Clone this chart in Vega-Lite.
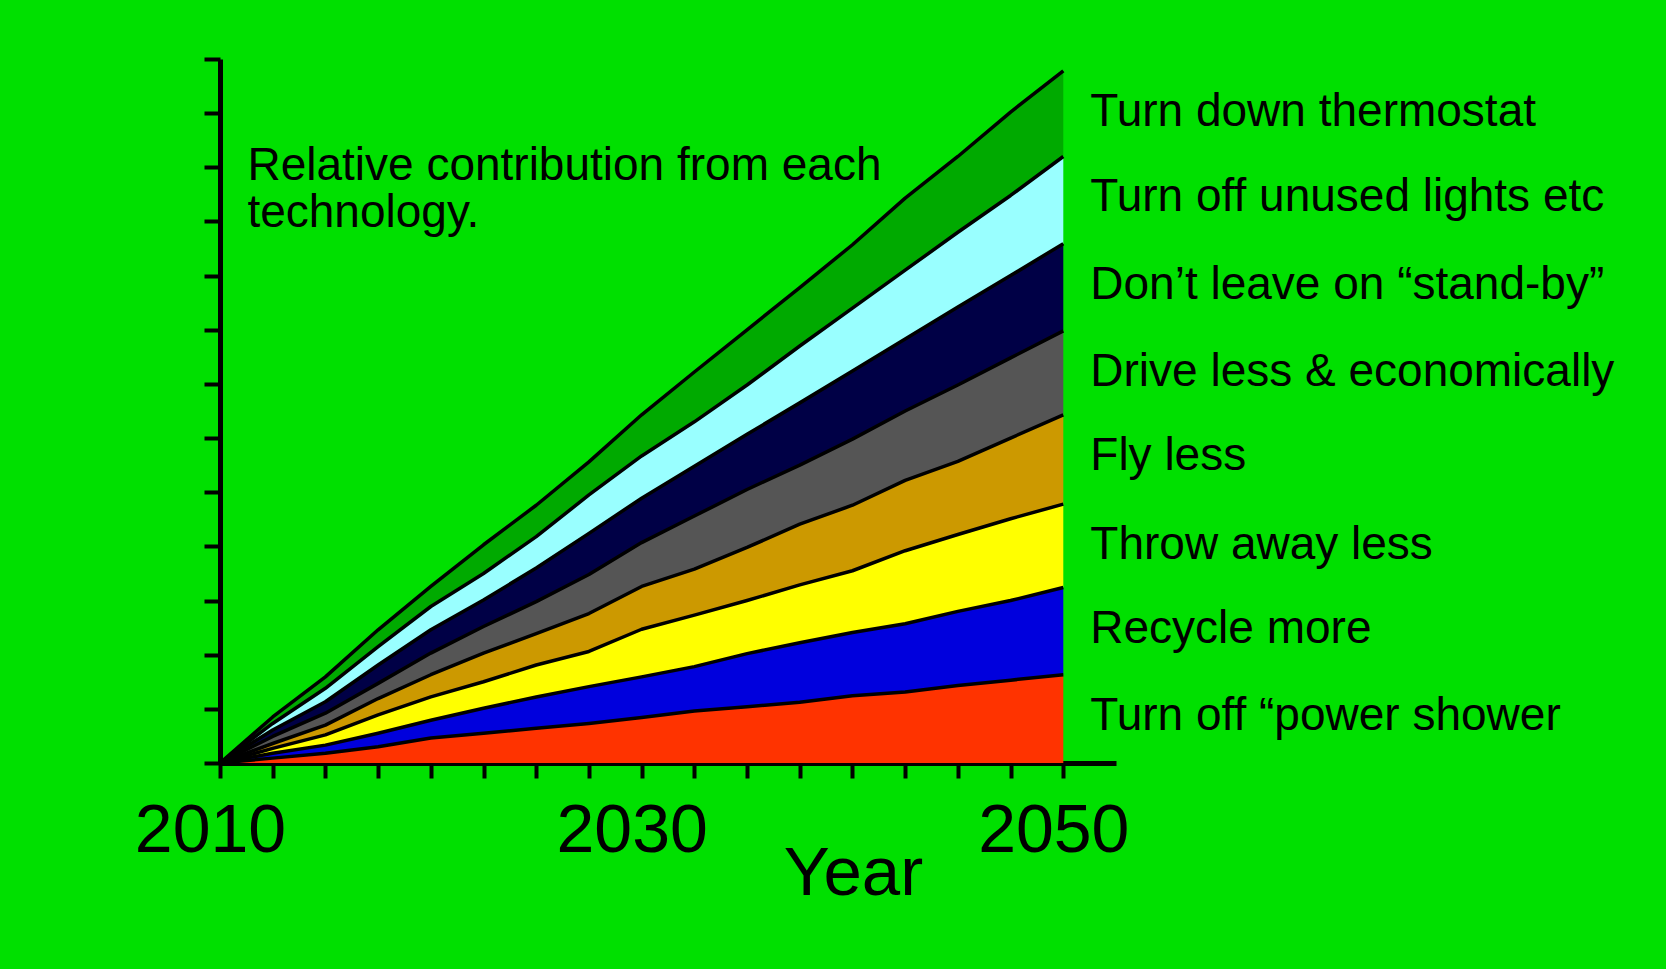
{
  "$schema": "https://vega.github.io/schema/vega-lite/v6.json",
  "width": 896,
  "height": 704,
  "autosize": {"type": "none"},
  "padding": {"left": 220, "top": 59, "right": 550, "bottom": 206},
  "background": "#00E000",
  "config": {"font": "Liberation Sans", "view": {"stroke": null}},
  "datasets": {
    "series": [
      {"measure": "Turn off “power shower", "rank": 1},
      {"measure": "Recycle more", "rank": 2},
      {"measure": "Throw away less", "rank": 3},
      {"measure": "Fly less", "rank": 4},
      {"measure": "Drive less & economically", "rank": 5},
      {"measure": "Don’t leave on “stand-by”", "rank": 6},
      {"measure": "Turn off unused lights etc", "rank": 7},
      {"measure": "Turn down thermostat", "rank": 8}
    ],
    "main": [
      {"year": 2010, "measure": "Turn off “power shower", "value": 0},
      {"year": 2010, "measure": "Recycle more", "value": 0},
      {"year": 2010, "measure": "Throw away less", "value": 0},
      {"year": 2010, "measure": "Fly less", "value": 0},
      {"year": 2010, "measure": "Drive less & economically", "value": 0},
      {"year": 2010, "measure": "Don’t leave on “stand-by”", "value": 0},
      {"year": 2010, "measure": "Turn off unused lights etc", "value": 0},
      {"year": 2010, "measure": "Turn down thermostat", "value": 0},

      {"year": 2012.5, "measure": "Turn off “power shower", "value": 0.09},
      {"year": 2012.5, "measure": "Recycle more", "value": 0.09},
      {"year": 2012.5, "measure": "Throw away less", "value": 0.09},
      {"year": 2012.5, "measure": "Fly less", "value": 0.09},
      {"year": 2012.5, "measure": "Drive less & economically", "value": 0.13},
      {"year": 2012.5, "measure": "Don’t leave on “stand-by”", "value": 0.12},
      {"year": 2012.5, "measure": "Turn off unused lights etc", "value": 0.12},
      {"year": 2012.5, "measure": "Turn down thermostat", "value": 0.12},

      {"year": 2015, "measure": "Turn off “power shower", "value": 0.18},
      {"year": 2015, "measure": "Recycle more", "value": 0.15},
      {"year": 2015, "measure": "Throw away less", "value": 0.19},
      {"year": 2015, "measure": "Fly less", "value": 0.18},
      {"year": 2015, "measure": "Drive less & economically", "value": 0.22},
      {"year": 2015, "measure": "Don’t leave on “stand-by”", "value": 0.21},
      {"year": 2015, "measure": "Turn off unused lights etc", "value": 0.25},
      {"year": 2015, "measure": "Turn down thermostat", "value": 0.21},

      {"year": 2017.5, "measure": "Turn off “power shower", "value": 0.30},
      {"year": 2017.5, "measure": "Recycle more", "value": 0.25},
      {"year": 2017.5, "measure": "Throw away less", "value": 0.34},
      {"year": 2017.5, "measure": "Fly less", "value": 0.30},
      {"year": 2017.5, "measure": "Drive less & economically", "value": 0.28},
      {"year": 2017.5, "measure": "Don’t leave on “stand-by”", "value": 0.34},
      {"year": 2017.5, "measure": "Turn off unused lights etc", "value": 0.34},
      {"year": 2017.5, "measure": "Turn down thermostat", "value": 0.31},

      {"year": 2020, "measure": "Turn off “power shower", "value": 0.46},
      {"year": 2020, "measure": "Recycle more", "value": 0.33},
      {"year": 2020, "measure": "Throw away less", "value": 0.43},
      {"year": 2020, "measure": "Fly less", "value": 0.41},
      {"year": 2020, "measure": "Drive less & economically", "value": 0.40},
      {"year": 2020, "measure": "Don’t leave on “stand-by”", "value": 0.43},
      {"year": 2020, "measure": "Turn off unused lights etc", "value": 0.43},
      {"year": 2020, "measure": "Turn down thermostat", "value": 0.37},

      {"year": 2022.5, "measure": "Turn off “power shower", "value": 0.55},
      {"year": 2022.5, "measure": "Recycle more", "value": 0.46},
      {"year": 2022.5, "measure": "Throw away less", "value": 0.49},
      {"year": 2022.5, "measure": "Fly less", "value": 0.53},
      {"year": 2022.5, "measure": "Drive less & economically", "value": 0.49},
      {"year": 2022.5, "measure": "Don’t leave on “stand-by”", "value": 0.49},
      {"year": 2022.5, "measure": "Turn off unused lights etc", "value": 0.49},
      {"year": 2022.5, "measure": "Turn down thermostat", "value": 0.53},

      {"year": 2025, "measure": "Turn off “power shower", "value": 0.64},
      {"year": 2025, "measure": "Recycle more", "value": 0.58},
      {"year": 2025, "measure": "Throw away less", "value": 0.59},
      {"year": 2025, "measure": "Fly less", "value": 0.58},
      {"year": 2025, "measure": "Drive less & economically", "value": 0.59},
      {"year": 2025, "measure": "Don’t leave on “stand-by”", "value": 0.62},
      {"year": 2025, "measure": "Turn off unused lights etc", "value": 0.58},
      {"year": 2025, "measure": "Turn down thermostat", "value": 0.58},

      {"year": 2027.5, "measure": "Turn off “power shower", "value": 0.73},
      {"year": 2027.5, "measure": "Recycle more", "value": 0.68},
      {"year": 2027.5, "measure": "Throw away less", "value": 0.65},
      {"year": 2027.5, "measure": "Fly less", "value": 0.70},
      {"year": 2027.5, "measure": "Drive less & economically", "value": 0.72},
      {"year": 2027.5, "measure": "Don’t leave on “stand-by”", "value": 0.76},
      {"year": 2027.5, "measure": "Turn off unused lights etc", "value": 0.71},
      {"year": 2027.5, "measure": "Turn down thermostat", "value": 0.61},

      {"year": 2030, "measure": "Turn off “power shower", "value": 0.84},
      {"year": 2030, "measure": "Recycle more", "value": 0.75},
      {"year": 2030, "measure": "Throw away less", "value": 0.88},
      {"year": 2030, "measure": "Fly less", "value": 0.79},
      {"year": 2030, "measure": "Drive less & economically", "value": 0.81},
      {"year": 2030, "measure": "Don’t leave on “stand-by”", "value": 0.82},
      {"year": 2030, "measure": "Turn off unused lights etc", "value": 0.78},
      {"year": 2030, "measure": "Turn down thermostat", "value": 0.76},

      {"year": 2032.5, "measure": "Turn off “power shower", "value": 0.96},
      {"year": 2032.5, "measure": "Recycle more", "value": 0.82},
      {"year": 2032.5, "measure": "Throw away less", "value": 0.95},
      {"year": 2032.5, "measure": "Fly less", "value": 0.85},
      {"year": 2032.5, "measure": "Drive less & economically", "value": 0.98},
      {"year": 2032.5, "measure": "Don’t leave on “stand-by”", "value": 0.92},
      {"year": 2032.5, "measure": "Turn off unused lights etc", "value": 0.82},
      {"year": 2032.5, "measure": "Turn down thermostat", "value": 0.92},

      {"year": 2035, "measure": "Turn off “power shower", "value": 1.04},
      {"year": 2035, "measure": "Recycle more", "value": 0.98},
      {"year": 2035, "measure": "Throw away less", "value": 0.98},
      {"year": 2035, "measure": "Fly less", "value": 0.98},
      {"year": 2035, "measure": "Drive less & economically", "value": 1.07},
      {"year": 2035, "measure": "Don’t leave on “stand-by”", "value": 1.02},
      {"year": 2035, "measure": "Turn off unused lights etc", "value": 0.91},
      {"year": 2035, "measure": "Turn down thermostat", "value": 1.02},

      {"year": 2037.5, "measure": "Turn off “power shower", "value": 1.12},
      {"year": 2037.5, "measure": "Recycle more", "value": 1.10},
      {"year": 2037.5, "measure": "Throw away less", "value": 1.07},
      {"year": 2037.5, "measure": "Fly less", "value": 1.12},
      {"year": 2037.5, "measure": "Drive less & economically", "value": 1.09},
      {"year": 2037.5, "measure": "Don’t leave on “stand-by”", "value": 1.15},
      {"year": 2037.5, "measure": "Turn off unused lights etc", "value": 1.05},
      {"year": 2037.5, "measure": "Turn down thermostat", "value": 1.08},

      {"year": 2040, "measure": "Turn off “power shower", "value": 1.24},
      {"year": 2040, "measure": "Recycle more", "value": 1.17},
      {"year": 2040, "measure": "Throw away less", "value": 1.14},
      {"year": 2040, "measure": "Fly less", "value": 1.21},
      {"year": 2040, "measure": "Drive less & economically", "value": 1.22},
      {"year": 2040, "measure": "Don’t leave on “stand-by”", "value": 1.26},
      {"year": 2040, "measure": "Turn off unused lights etc", "value": 1.16},
      {"year": 2040, "measure": "Turn down thermostat", "value": 1.17},

      {"year": 2042.5, "measure": "Turn off “power shower", "value": 1.31},
      {"year": 2042.5, "measure": "Recycle more", "value": 1.26},
      {"year": 2042.5, "measure": "Throw away less", "value": 1.35},
      {"year": 2042.5, "measure": "Fly less", "value": 1.30},
      {"year": 2042.5, "measure": "Drive less & economically", "value": 1.28},
      {"year": 2042.5, "measure": "Don’t leave on “stand-by”", "value": 1.33},
      {"year": 2042.5, "measure": "Turn off unused lights etc", "value": 1.27},
      {"year": 2042.5, "measure": "Turn down thermostat", "value": 1.33},

      {"year": 2045, "measure": "Turn off “power shower", "value": 1.43},
      {"year": 2045, "measure": "Recycle more", "value": 1.37},
      {"year": 2045, "measure": "Throw away less", "value": 1.42},
      {"year": 2045, "measure": "Fly less", "value": 1.35},
      {"year": 2045, "measure": "Drive less & economically", "value": 1.41},
      {"year": 2045, "measure": "Don’t leave on “stand-by”", "value": 1.44},
      {"year": 2045, "measure": "Turn off unused lights etc", "value": 1.38},
      {"year": 2045, "measure": "Turn down thermostat", "value": 1.40},

      {"year": 2047.5, "measure": "Turn off “power shower", "value": 1.53},
      {"year": 2047.5, "measure": "Recycle more", "value": 1.47},
      {"year": 2047.5, "measure": "Throw away less", "value": 1.51},
      {"year": 2047.5, "measure": "Fly less", "value": 1.49},
      {"year": 2047.5, "measure": "Drive less & economically", "value": 1.48},
      {"year": 2047.5, "measure": "Don’t leave on “stand-by”", "value": 1.52},
      {"year": 2047.5, "measure": "Turn off unused lights etc", "value": 1.48},
      {"year": 2047.5, "measure": "Turn down thermostat", "value": 1.54},

      {"year": 2050, "measure": "Turn off “power shower", "value": 1.63},
      {"year": 2050, "measure": "Recycle more", "value": 1.61},
      {"year": 2050, "measure": "Throw away less", "value": 1.54},
      {"year": 2050, "measure": "Fly less", "value": 1.65},
      {"year": 2050, "measure": "Drive less & economically", "value": 1.55},
      {"year": 2050, "measure": "Don’t leave on “stand-by”", "value": 1.61},
      {"year": 2050, "measure": "Turn off unused lights etc", "value": 1.61},
      {"year": 2050, "measure": "Turn down thermostat", "value": 1.58}
    ]
  },
  "layer": [
    {
      "data": {"name": "main"},
      "transform": [
        {"lookup": "measure", "from": {"data": {"name": "series"}, "key": "measure", "fields": ["rank"]}},
        {"stack": "value", "groupby": ["year"], "sort": [{"field": "rank", "order": "ascending"}], "as": ["v0", "v1"]}
      ],
      "layer": [
        {
          "mark": {"type": "area", "interpolate": "linear"},
          "encoding": {
            "x": {
              "field": "year", "type": "quantitative",
              "scale": {"domain": [2010, 2052.5], "nice": false, "zero": false},
              "axis": {
                "values": [2010, 2012.5, 2015, 2017.5, 2020, 2022.5, 2025, 2027.5, 2030, 2032.5, 2035, 2037.5, 2040, 2042.5, 2045, 2047.5, 2050],
                "labelExpr": "(datum.value == 2010 || datum.value == 2030 || datum.value == 2050) ? ('' + datum.value) : ''",
                "labelFontSize": 68, "labelColor": "black", "labelPadding": 19, "labelBaseline": "top",
                "labelOffset": -10, "labelOverlap": false, "labelFlush": false,
                "tickSize": 15, "tickWidth": 4, "tickColor": "black",
                "domainColor": "black", "domainWidth": 5, "grid": false,
                "title": "Year", "titleFontSize": 69, "titleFontWeight": "normal", "titleColor": "black",
                "titleX": 633, "titleY": 131, "titleBaseline": "alphabetic", "titleAlign": "center"
              }
            },
            "y": {
              "field": "v1", "type": "quantitative",
              "scale": {"domain": [0, 13], "nice": false, "zero": true},
              "axis": {
                "values": [0, 1, 2, 3, 4, 5, 6, 7, 8, 9, 10, 11, 12, 13],
                "labels": false, "tickSize": 16, "tickWidth": 4, "tickColor": "black",
                "domainColor": "black", "domainWidth": 5, "grid": false, "title": null
              }
            },
            "y2": {"field": "v0"},
            "color": {
              "field": "measure", "type": "nominal", "legend": null,
              "scale": {
                "domain": ["Turn off “power shower", "Recycle more", "Throw away less", "Fly less", "Drive less & economically", "Don’t leave on “stand-by”", "Turn off unused lights etc", "Turn down thermostat"],
                "range": ["#FF3300", "#0000DD", "#FFFF00", "#CC9900", "#555555", "#000046", "#99FFFF", "#00AA00"]
              }
            }
          }
        },
        {
          "mark": {"type": "line", "color": "black", "strokeWidth": 3.5, "strokeJoin": "round"},
          "encoding": {
            "x": {"field": "year", "type": "quantitative"},
            "y": {"field": "v1", "type": "quantitative"},
            "detail": {"field": "measure", "type": "nominal"}
          }
        },
        {
          "transform": [{"filter": "datum.year == 2050"}],
          "mark": {"type": "text", "align": "left", "baseline": "middle", "dx": 27, "dy": 41, "fontSize": 46, "color": "black"},
          "encoding": {
            "x": {"field": "year", "type": "quantitative"},
            "y": {"field": "v1", "type": "quantitative"},
            "text": {"field": "measure", "type": "nominal"}
          }
        }
      ]
    },
    {
      "data": {"values": [{"note": "Relative contribution from each\ntechnology."}]},
      "mark": {"type": "text", "align": "left", "baseline": "alphabetic", "fontSize": 46, "lineHeight": 47, "lineBreak": "\n", "color": "black"},
      "encoding": {
        "x": {"datum": 2011.3, "type": "quantitative"},
        "y": {"datum": 10.77, "type": "quantitative"},
        "text": {"field": "note", "type": "nominal"}
      }
    }
  ]
}
